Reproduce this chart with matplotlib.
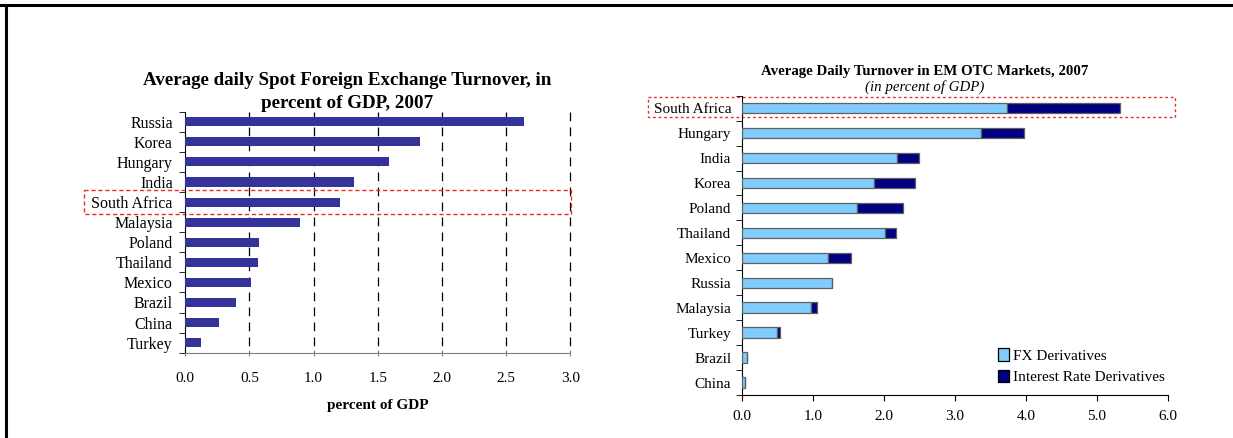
import matplotlib
matplotlib.use("Agg")
import matplotlib.pyplot as plt
import matplotlib.transforms as mtransforms
from matplotlib.patches import Rectangle
from matplotlib.lines import Line2D
import numpy as np

plt.rcParams['font.family'] = ['Liberation Serif', 'DejaVu Serif']

# left chart: spot FX turnover, % of GDP
spot_countries = ['Russia', 'Korea', 'Hungary', 'India', 'South Africa', 'Malaysia',
                  'Poland', 'Thailand', 'Mexico', 'Brazil', 'China', 'Turkey']
spot_values = [2.64, 1.83, 1.59, 1.315, 1.205, 0.89, 0.575, 0.565, 0.51, 0.395, 0.26, 0.12]

# right chart: OTC derivatives turnover, % of GDP
otc_countries = ['South Africa', 'Hungary', 'India', 'Korea', 'Poland', 'Thailand',
                 'Mexico', 'Russia', 'Malaysia', 'Turkey', 'Brazil', 'China']
fx_deriv = [3.74, 3.37, 2.18, 1.855, 1.62, 2.01, 1.205, 1.26, 0.975, 0.495, 0.06, 0.035]
ir_deriv = [1.59, 0.60, 0.32, 0.575, 0.65, 0.165, 0.335, 0.0, 0.08, 0.03, 0.0, 0.0]

W, H = 1233, 438
fig = plt.figure(figsize=(W / 100, H / 100), dpi=100)

# frame lines (top and left)
fig.add_artist(Line2D([0, 1], [1 - 5 / H, 1 - 5 / H], color='black', lw=2.2))
fig.add_artist(Line2D([6 / W, 6 / W], [0, 1 - 5 / H], color='black', lw=2.2))

# ---------- left chart ----------
ax1 = fig.add_axes([185.3 / W, 1 - 352.7 / H, 385 / W, 241 / H])
y1 = np.arange(len(spot_countries))
ax1.barh(y1, spot_values, height=0.45, color='#333399', zorder=3)
ax1.set_xlim(0, 3.0)
ax1.set_ylim(len(spot_countries) - 0.5, -0.5)
xt1 = np.arange(0, 3.01, 0.5)
ax1.set_xticks(xt1)
ax1.set_xticklabels([f'{v:.1f}' for v in xt1], fontsize=11)
ax1.set_yticks(y1)
ax1.set_yticklabels(spot_countries, fontsize=11.5)
ax1.set_yticks(np.arange(-0.5, len(spot_countries)), minor=True)
ax1.tick_params(axis='y', which='major', length=0, pad=9)
ax1.tick_params(axis='y', which='minor', length=4, direction='out')
ax1.tick_params(axis='x', length=4, direction='inout', pad=12, color='#808080')
# dashed vertical gridlines (drawn unclipped so the one at 3.0 shows fully)
ax1.vlines(xt1[1:], -0.5, len(spot_countries) - 0.5, colors='black',
           linestyles=(0, (7, 5)), lw=0.9, zorder=1, clip_on=False)
for s in ['top', 'right']:
    ax1.spines[s].set_visible(False)
ax1.spines['bottom'].set_color('#808080')
ax1.set_xlabel('percent of GDP', fontsize=11, fontweight='bold', labelpad=10)
fig.text(347 / W, 1 - 92 / H, 'Average daily Spot Foreign Exchange Turnover, in\npercent of GDP, 2007',
         ha='center', va='center', fontsize=13.7, fontweight='bold', linespacing=1.5)

tr1 = mtransforms.blended_transform_factory(ax1.transAxes, ax1.transData)
sa1 = spot_countries.index('South Africa')
ax1.add_patch(Rectangle((-0.263, sa1 - 0.6), 1.265, 1.2, transform=tr1, fill=False,
                        edgecolor='#e03030', linestyle=(0, (3, 2)), lw=1, clip_on=False))

# ---------- right chart ----------
ax2 = fig.add_axes([742.3 / W, 1 - 395 / H, 425.2 / W, 299.3 / H])
y2 = np.arange(len(otc_countries))
ax2.barh(y2, fx_deriv, height=0.42, color='#80CCFF', edgecolor='#606060', lw=0.9,
         label='FX Derivatives', zorder=3)
ax2.barh(y2, ir_deriv, left=fx_deriv, height=0.42, color='#000080', edgecolor='#606060',
         lw=0.9, label='Interest Rate Derivatives', zorder=3)
ax2.set_xlim(0, 6.0)
ax2.set_ylim(len(otc_countries) - 0.5, -0.5)
xt2 = np.arange(0, 6.01, 1.0)
ax2.set_xticks(xt2)
ax2.set_xticklabels([f'{v:.1f}' for v in xt2], fontsize=11)
ax2.set_yticks(y2)
ax2.set_yticklabels(otc_countries, fontsize=11)
ax2.set_yticks(np.arange(-0.5, len(otc_countries)), minor=True)
ax2.tick_params(axis='y', which='major', length=0, pad=8)
ax2.tick_params(axis='y', which='minor', length=4, direction='out')
ax2.tick_params(axis='x', length=4, direction='out', pad=7)
for s in ['top', 'right']:
    ax2.spines[s].set_visible(False)
fig.text(925 / W, 1 - 71 / H, 'Average Daily Turnover in EM OTC Markets, 2007',
         ha='center', va='center', fontsize=10.7, fontweight='bold')
fig.text(925 / W, 1 - 87.5 / H, '(in percent of GDP)', ha='center', va='center',
         fontsize=10.7, style='italic')
leg = ax2.legend(loc='lower right', bbox_to_anchor=(1.027, -0.01), frameon=False, fontsize=11,
                 handlelength=0.7, handleheight=0.9, handletextpad=0.3, labelspacing=0.45)
for h in leg.legend_handles:
    h.set_edgecolor('black')

tr2 = mtransforms.blended_transform_factory(ax2.transAxes, ax2.transData)
sa2 = otc_countries.index('South Africa')
ax2.add_patch(Rectangle((-0.222, sa2 - 0.45), 1.24, 0.82, transform=tr2, fill=False,
                        edgecolor='#e03030', linestyle=(0, (2, 2)), lw=1, clip_on=False))

fig.savefig('out.png', dpi=100)
